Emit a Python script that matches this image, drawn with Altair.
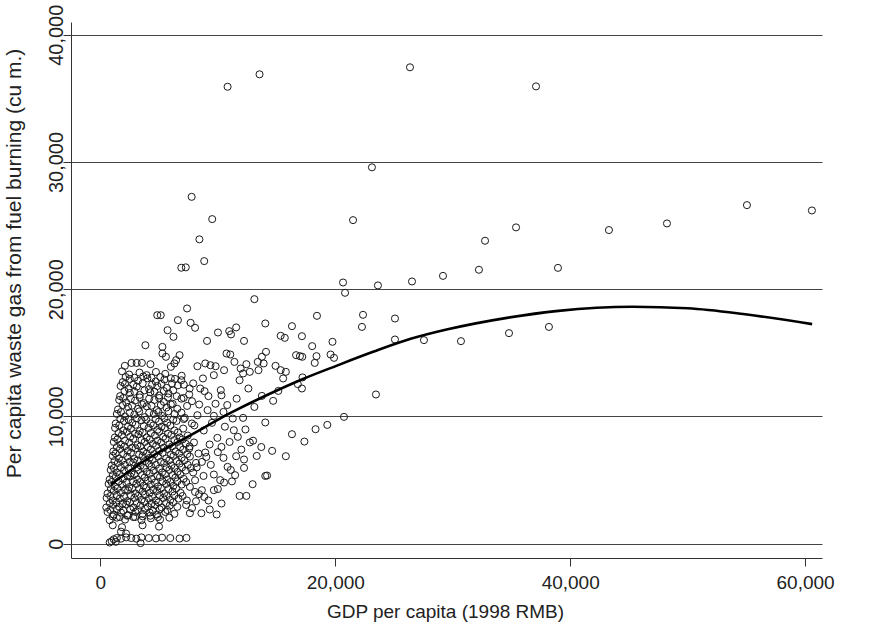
import altair as alt
import pandas as pd

# ---------------- data (values in thousands) ----------------
# scattered points: GDP per capita (thousand 1998 RMB), waste gas (thousand cu m)
sparse_gdp_k = [
    10.83, 13.55, 26.36, 37.09, 23.12, 21.51, 35.39, 32.75, 43.30, 48.24, 55.05, 60.58,
    32.23, 38.96, 29.17, 26.53, 20.66, 20.83, 23.63, 18.44, 22.36, 22.27, 25.08, 17.16,
    18.03, 19.76, 25.08, 27.55, 30.70, 34.79, 38.19, 18.40, 18.25, 19.60, 19.89, 16.99,
    17.21, 17.16, 23.46, 20.74, 19.32, 18.32, 17.37,
    7.77, 9.52, 8.43, 8.84, 6.89, 7.27, 13.11, 7.38, 4.84, 5.14, 6.6, 7.68, 8.06, 14.04, 16.31,
    10.01, 10.97, 11.56, 11.12, 9.08, 12.23, 10.74, 11.06, 13.75, 6.74, 8.26, 8.93, 9.37, 9.81,
    11.41, 12.43, 13.4, 5.72, 6.22, 3.83, 5.28, 5.28, 5.58, 6.45, 2.08, 2.65, 3.09, 3.53, 4.26,
    6.0, 6.3, 15.35, 15.7, 14.1, 16.66, 17.19, 13.9, 14.91,
    14.71, 13.75, 15.15, 16.81, 15.56, 15.79, 15.35, 14.04, 16.31, 14.62, 15.79, 14.19,
    10.53, 9.66, 8.73, 11.94, 12.15, 11.85, 12.72, 13.46, 6.89, 8.87, 10.25, 10.31, 7.56, 7.09,
    8.41, 7.38, 8.26, 7.18, 9.13, 9.66, 10.48, 11.27, 12.15, 13.11, 11.36, 12.35, 9.96, 10.31,
    12.72, 7.97, 7.56, 8.35, 8.93, 8.64, 9.02, 10.48, 11.56, 12.23, 13.31, 10.83, 12.23, 9.66,
    11.47, 14.04, 8.78, 8.06, 10.53, 12.96, 9.66, 8.64, 8.06, 7.62, 8.84, 8.14, 11.85, 12.43,
    10.31, 9.31, 6.74, 7.33,
    7.9, 8.5, 9.2, 9.8, 10.8, 11.6, 12.6, 8.0, 8.8, 9.5, 10.6, 11.7, 8.2, 9.3, 10.0,
    11.0, 9.4, 10.2, 11.1, 7.9, 8.4, 9.2, 10.0, 7.8, 8.6, 9.9, 11.2, 12.0, 13.0, 13.7,
]
sparse_gas_k = [
    35.91, 36.89, 37.44, 35.94, 29.58, 25.43, 24.86, 23.81, 24.65, 25.17, 26.61, 26.19,
    21.53, 21.68, 21.05, 20.61, 20.53, 19.72, 20.3, 17.91, 17.99, 17.04, 17.7, 16.31,
    15.53, 15.87, 16.05, 16.0, 15.92, 16.55, 17.04, 14.74, 14.21, 14.87, 14.61, 14.74,
    13.07, 12.2, 11.73, 9.97, 9.34, 9.0, 8.03,
    27.26, 25.51, 23.92, 22.21, 21.69, 21.72, 19.22, 18.49, 17.96, 17.96, 17.57, 17.36, 16.97, 17.31, 17.1,
    16.6, 16.71, 17.0, 16.45, 15.94, 15.94, 14.95, 14.87, 14.69, 14.82, 13.95, 14.17, 14.03, 13.95,
    14.29, 14.11, 14.29, 16.78, 16.26, 15.6, 15.47, 14.95, 14.69, 14.43, 13.98, 14.21, 14.21, 14.21, 14.11,
    13.9, 14.17, 16.34, 16.18, 15.08, 14.82, 14.69, 14.17, 13.98,
    11.23, 11.62, 12.01, 12.54, 12.99, 13.51, 13.64, 9.53, 8.61, 7.3, 6.88, 5.36,
    13.64, 13.25, 12.99, 13.77, 13.38, 12.85, 13.51, 13.64, 12.85, 11.99, 12.07, 11.67, 11.73, 11.46,
    10.94, 10.83, 10.1, 9.89, 10.5, 10.05, 10.36, 9.84, 9.89, 10.75, 8.92, 8.98, 8.32, 7.61,
    7.96, 7.96, 7.48, 7.09, 7.17, 6.43, 6.82, 6.75, 6.88, 6.62, 6.9, 6.04, 5.96, 5.44,
    5.39, 5.33, 5.33, 4.99, 4.81, 4.68, 4.21, 4.21, 4.07, 4.47, 3.68, 3.34, 3.76, 3.76,
    3.16, 2.69, 0.41, 0.46,
    12.6, 12.2, 11.6, 11.0, 10.9, 11.4, 12.2, 9.3, 8.9, 9.5, 9.2, 8.4, 6.0, 7.8, 7.2,
    8.0, 6.2, 5.0, 5.8, 5.6, 3.9, 3.4, 4.3, 2.8, 2.4, 2.3, 4.9, 7.4, 8.1, 7.6,
]

# dense cluster, read band by band (GDP values and matching waste-gas values)
band_gdp_k = [
    [1.84, 2.45, 3.33, 3.94, 4.73, 5.52, 6.92],
    [2.15, 2.90, 3.65, 4.35, 5.10, 6.00],
    [1.90, 2.50, 3.20, 4.00, 4.70, 5.45, 6.35],
    [2.10, 2.80, 3.60, 4.40, 5.20, 6.10, 7.10],
    [1.72, 2.40, 3.10, 4.15, 4.85, 5.65, 6.60, 7.60],
    [2.05, 2.90, 3.75, 4.60, 5.40, 6.20],
    [1.68, 2.50, 3.35, 4.25, 5.00, 5.80, 6.50],
    [1.95, 2.60, 3.35, 4.15, 5.00, 5.75, 6.90],
    [1.60, 2.20, 2.95, 3.70, 4.60, 5.40, 6.15, 7.80],
    [1.90, 2.70, 3.55, 4.35, 5.15, 6.00],
    [1.50, 2.35, 3.20, 3.95, 4.80, 5.62, 6.55],
    [1.75, 2.50, 3.30, 4.15, 4.95, 5.80, 6.90],
    [1.40, 2.10, 2.89, 3.77, 4.55, 5.25, 6.30],
    [1.70, 2.40, 3.10, 3.90, 4.70, 5.45, 6.20, 7.10],
    [1.31, 2.01, 2.71, 3.50, 4.29, 4.99, 5.69, 6.48, 7.79],
    [1.60, 2.35, 3.00, 3.70, 4.50, 5.20, 5.95],
    [1.25, 1.95, 2.60, 3.35, 4.10, 4.85, 5.50, 6.30, 7.05],
    [1.55, 2.25, 2.95, 3.60, 4.30, 5.00, 5.75, 6.60],
    [1.23, 1.84, 2.54, 3.24, 3.94, 4.64, 5.34, 6.04, 6.74, 7.44],
    [1.45, 2.10, 2.80, 3.50, 4.20, 4.85, 5.55, 6.30, 7.00],
    [1.14, 1.75, 2.45, 3.15, 3.77, 4.47, 5.17, 5.87, 6.57, 7.27],
    [1.40, 2.05, 2.70, 3.40, 4.05, 4.75, 5.40, 6.10, 6.80, 7.60],
    [1.10, 1.68, 2.33, 3.00, 3.65, 4.30, 5.00, 5.70, 6.40, 7.05],
    [1.30, 1.95, 2.60, 3.30, 3.95, 4.60, 5.30, 6.00, 6.70, 7.40],
    [1.05, 1.58, 2.28, 2.89, 3.59, 4.20, 4.90, 5.60, 6.22, 6.92, 7.62],
    [1.20, 1.85, 2.50, 3.15, 3.80, 4.45, 5.15, 5.85, 6.50, 7.15],
    [0.96, 1.49, 2.10, 2.80, 3.42, 4.12, 4.73, 5.43, 6.04, 6.74, 7.44, 8.14],
    [1.15, 1.75, 2.40, 3.10, 3.70, 4.35, 5.00, 5.65, 6.30, 6.95, 7.70],
    [0.88, 1.40, 2.01, 2.63, 3.24, 3.94, 4.55, 5.25, 5.87, 6.57, 7.27],
    [1.05, 1.65, 2.30, 2.90, 3.55, 4.20, 4.85, 5.50, 6.15, 6.80],
    [0.79, 1.31, 1.93, 2.54, 3.15, 3.77, 4.38, 5.08, 5.69, 6.39, 7.09],
    [0.95, 1.55, 2.20, 2.80, 3.40, 4.05, 4.65, 5.30, 5.95, 6.55, 7.30],
    [0.70, 1.23, 1.84, 2.45, 3.06, 3.68, 4.29, 4.90, 5.60, 6.22, 6.92],
    [0.90, 1.45, 2.10, 2.70, 3.30, 3.90, 4.50, 5.15, 5.80, 6.45],
    [0.61, 1.14, 1.75, 2.36, 2.98, 3.59, 4.20, 4.82, 5.43, 6.13, 6.83],
    [0.85, 1.40, 2.00, 2.60, 3.20, 3.80, 4.40, 5.05, 5.65, 6.30, 7.00],
    [0.53, 1.05, 1.66, 2.28, 2.89, 3.50, 4.12, 4.73, 5.34, 5.95, 6.65, 7.36],
    [0.80, 1.35, 1.90, 2.50, 3.10, 3.75, 4.35, 4.95, 5.60, 6.20],
    [0.50, 1.10, 1.60, 2.20, 2.82, 3.40, 4.05, 4.65, 5.22, 5.90, 6.55, 7.30],
    [0.85, 1.40, 1.95, 2.55, 3.20, 3.80, 4.45, 5.05, 5.70],
    [0.61, 1.14, 1.75, 2.36, 2.98, 3.59, 4.20, 4.82, 5.52, 6.30, 7.62],
    [1.05, 1.65, 2.30, 2.95, 3.60, 4.25, 4.90],
    [0.79, 1.40, 2.10, 2.80, 3.50, 4.29, 5.08, 5.87],
    [1.05, 1.84, 3.59, 4.99],
    [1.75, 2.19],
    [1.14, 1.40, 1.75, 2.19, 2.63, 3.06, 3.50, 4.12, 4.73, 5.25, 5.95],
    [0.79, 0.96, 1.31, 3.42],
]
band_gas_k = [
    [13.55, 13.30, 13.45, 13.25, 13.50, 13.35, 13.20],
    [13.10, 13.05, 13.15, 13.05, 13.10, 13.00],
    [12.70, 12.95, 12.80, 13.00, 12.75, 12.90, 12.95],
    [12.55, 12.50, 12.60, 12.50, 12.55, 12.60, 12.50],
    [12.40, 12.20, 12.35, 12.15, 12.40, 12.25, 12.45, 12.20],
    [12.00, 11.95, 12.05, 11.95, 12.00, 12.05],
    [11.60, 11.85, 11.70, 11.90, 11.65, 11.80, 11.60],
    [11.45, 11.40, 11.50, 11.40, 11.45, 11.50, 11.40],
    [11.30, 11.10, 11.25, 11.05, 11.30, 11.15, 11.00, 11.20],
    [10.90, 10.85, 10.95, 10.85, 10.90, 10.95],
    [10.55, 10.75, 10.60, 10.80, 10.50, 10.70, 10.60],
    [10.35, 10.30, 10.40, 10.30, 10.35, 10.40, 10.30],
    [10.20, 10.00, 10.15, 9.95, 10.20, 10.05, 10.20],
    [9.80, 9.75, 9.85, 9.75, 9.80, 9.85, 9.75, 9.80],
    [9.45, 9.65, 9.50, 9.70, 9.45, 9.60, 9.50, 9.65, 9.45],
    [9.30, 9.20, 9.35, 9.25, 9.30, 9.20, 9.30],
    [9.10, 8.90, 9.05, 8.85, 9.10, 8.95, 9.10, 8.90, 9.05],
    [8.70, 8.80, 8.65, 8.75, 8.70, 8.80, 8.65, 8.75],
    [8.35, 8.55, 8.40, 8.60, 8.35, 8.50, 8.40, 8.55, 8.35, 8.50],
    [8.20, 8.10, 8.25, 8.15, 8.20, 8.10, 8.25, 8.15, 8.20],
    [8.00, 7.80, 7.95, 7.75, 8.00, 7.85, 7.95, 7.80, 8.00, 7.85],
    [7.60, 7.65, 7.55, 7.65, 7.60, 7.70, 7.55, 7.65, 7.60, 7.65],
    [7.25, 7.45, 7.30, 7.50, 7.25, 7.40, 7.30, 7.45, 7.25, 7.40],
    [7.10, 7.05, 7.15, 7.00, 7.10, 7.05, 7.15, 7.00, 7.10, 7.05],
    [6.90, 6.70, 6.85, 6.65, 6.90, 6.75, 6.85, 6.70, 6.90, 6.75, 6.85],
    [6.50, 6.55, 6.45, 6.55, 6.50, 6.60, 6.45, 6.55, 6.50, 6.55],
    [6.15, 6.35, 6.20, 6.40, 6.15, 6.30, 6.20, 6.35, 6.15, 6.30, 6.20, 6.35],
    [5.95, 6.00, 5.90, 6.00, 5.95, 6.05, 5.90, 6.00, 5.95, 6.00, 5.95],
    [5.80, 5.60, 5.75, 5.55, 5.80, 5.65, 5.75, 5.60, 5.80, 5.65, 5.75],
    [5.40, 5.45, 5.35, 5.45, 5.40, 5.50, 5.35, 5.45, 5.40, 5.45],
    [5.05, 5.25, 5.10, 5.30, 5.05, 5.20, 5.10, 5.25, 5.05, 5.20, 5.10],
    [4.85, 4.90, 4.80, 4.90, 4.85, 4.95, 4.80, 4.90, 4.85, 4.90, 4.85],
    [4.70, 4.50, 4.65, 4.45, 4.70, 4.55, 4.65, 4.50, 4.70, 4.55, 4.65],
    [4.30, 4.35, 4.25, 4.35, 4.30, 4.40, 4.25, 4.35, 4.30, 4.35],
    [3.95, 4.15, 4.00, 4.20, 3.95, 4.10, 4.00, 4.15, 3.95, 4.10, 4.00],
    [3.75, 3.80, 3.70, 3.80, 3.75, 3.85, 3.70, 3.80, 3.75, 3.80, 3.75],
    [3.60, 3.40, 3.55, 3.35, 3.60, 3.45, 3.55, 3.40, 3.60, 3.45, 3.55, 3.40],
    [3.20, 3.25, 3.15, 3.25, 3.20, 3.30, 3.15, 3.25, 3.20, 3.25],
    [2.85, 3.05, 2.90, 3.10, 2.85, 3.00, 2.90, 3.05, 2.85, 3.00, 2.90, 3.05],
    [2.65, 2.70, 2.60, 2.70, 2.65, 2.75, 2.60, 2.70, 2.65],
    [2.50, 2.30, 2.45, 2.25, 2.50, 2.35, 2.45, 2.30, 2.50, 2.35, 2.40],
    [2.15, 2.10, 2.20, 2.10, 2.15, 2.20, 2.10],
    [1.85, 2.05, 1.90, 2.10, 1.85, 2.00, 1.90, 2.05],
    [1.45, 1.30, 1.45, 1.35],
    [0.95, 0.80],
    [0.35, 0.45, 0.40, 0.50, 0.45, 0.40, 0.50, 0.45, 0.42, 0.48, 0.45],
    [0.10, 0.20, 0.15, 0.05],
]

# fitted curve
curve_gdp_k = [0.90, 3.83, 7.62, 11.12, 14.33, 17.25, 20.14, 23.28, 26.42, 29.57,
               34.61, 39.0, 45.3, 50.0, 54.73, 60.6]
curve_gas_k = [4.65, 6.56, 8.5, 10.3, 11.75, 12.95, 14.0, 15.1, 16.1, 16.85,
               17.75, 18.3, 18.62, 18.5, 18.05, 17.26]

x_ticks = [0, 20000, 40000, 60000]
y_ticks = [0, 10000, 20000, 30000, 40000]

# ---------------- tables ----------------
gdp_all = list(sparse_gdp_k)
gas_all = list(sparse_gas_k)
for gs, ws in zip(band_gdp_k, band_gas_k):
    gdp_all.extend(gs)
    gas_all.extend(ws)

pts = pd.DataFrame({"gdp": [v * 1000 for v in gdp_all],
                    "gas": [v * 1000 for v in gas_all]})
fit = pd.DataFrame({"gdp": [v * 1000 for v in curve_gdp_k],
                    "gas": [v * 1000 for v in curve_gas_k]})

FONT = "Liberation Sans"
xs = alt.Scale(domain=[-2503, 61440], nice=False, zero=False)
ys = alt.Scale(domain=[-1120, 41000], nice=False, zero=False)

x_axis = alt.Axis(values=x_ticks, format=",d", title="GDP per capita (1998 RMB)",
                  grid=False, tickSize=8, tickColor="#333333", domainColor="#333333",
                  tickWidth=1, domainWidth=1,
                  labelFont=FONT, labelFontSize=19, labelColor="#222222",
                  labelPadding=7, labelBaseline="top", labelFlush=False,
                  titleFont=FONT, titleFontSize=19, titleFontWeight="normal",
                  titleColor="#222222", titleX=374, titleY=44, titleBaseline="top",
                  titleAlign="center")
y_axis = alt.Axis(values=y_ticks, format=",d",
                  title="Per capita waste gas from fuel burning (cu m.)",
                  grid=True, gridColor="#444444", gridWidth=1,
                  tickSize=8, tickColor="#333333", domainColor="#333333",
                  tickWidth=1, domainWidth=1,
                  labelFont=FONT, labelFontSize=20, labelColor="#222222",
                  labelAngle=270, labelAlign="center", labelBaseline="alphabetic",
                  labelPadding=1, labelFlush=False,
                  titleFont=FONT, titleFontSize=21, titleFontWeight="normal",
                  titleColor="#222222", titleAngle=270, titleAlign="center",
                  titleBaseline="alphabetic", titleX=-51, titleY=241)

points = alt.Chart(pts).mark_point(shape="circle", filled=False, size=50,
                                   strokeWidth=1, color="#1a1a1a", opacity=1).encode(
    x=alt.X("gdp:Q", scale=xs, axis=x_axis),
    y=alt.Y("gas:Q", scale=ys, axis=y_axis),
)

line = alt.Chart(fit).mark_line(color="#000000", strokeWidth=2.6,
                                interpolate="monotone").encode(
    x=alt.X("gdp:Q", scale=xs),
    y=alt.Y("gas:Q", scale=ys),
)

chart = alt.layer(points, line).properties(
    width=751, height=536,
    padding={"left": 71, "top": 22, "right": 56, "bottom": 71},
    autosize=alt.AutoSizeParams(type="none"),
    background="white",
).configure_view(stroke=None)

chart.save("out.html", embed_options={"renderer": "svg", "actions": False})
